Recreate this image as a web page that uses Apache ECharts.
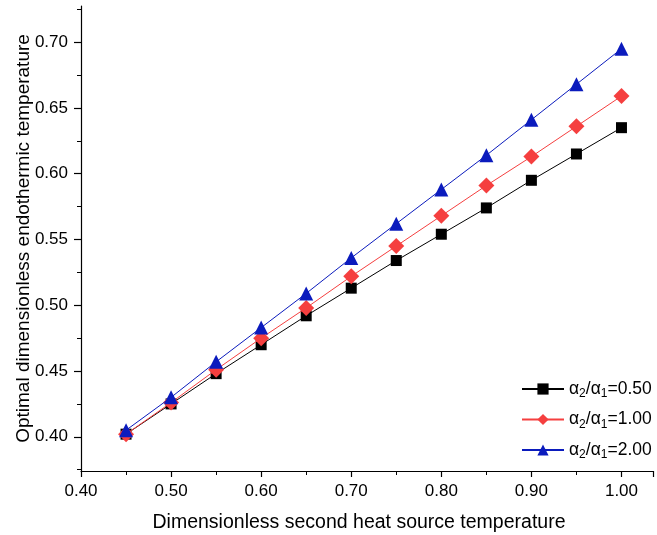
<!DOCTYPE html>
<html>
<head>
<meta charset="utf-8">
<script src="https://cdn.jsdelivr.net/npm/echarts@6/dist/echarts.min.js"></script>
<style>html,body{margin:0;padding:0;background:#fff}#c{width:657px;height:535px}</style>
</head>
<body>
<div id="c"></div>
<script>
var xValues = [0.45, 0.50, 0.55, 0.60, 0.65, 0.70, 0.75, 0.80, 0.85, 0.90, 0.95, 1.00];
var ratio050 = [0.402, 0.425, 0.448, 0.470, 0.492, 0.513, 0.534, 0.554, 0.574, 0.595, 0.615, 0.635];
var ratio100 = [0.402, 0.426, 0.451, 0.475, 0.498, 0.522, 0.545, 0.568, 0.591, 0.613, 0.636, 0.659];
var ratio200 = [0.405, 0.430, 0.457, 0.483, 0.509, 0.536, 0.562, 0.588, 0.614, 0.641, 0.668, 0.695];
var seriesNames = ['0.50', '1.00', '2.00'];
var yTickLabels = [0.40, 0.45, 0.50, 0.55, 0.60, 0.65, 0.70];
var yMinorTicks = [0.375, 0.425, 0.475, 0.525, 0.575, 0.625, 0.675, 0.725];

var FONT = '"Liberation Sans", Arial, sans-serif';
var colors = ['#000000', '#F53F3F', '#0B1BBD'];
var symbols = ['rect', 'diamond', 'triangle'];
var sizes = [11, 16, 14];
var dataSets = [ratio050, ratio100, ratio200];

function pairs(arr) { return xValues.map(function (x, i) { return [x, arr[i]]; }); }
function legendName(v) { return '{a|α}{s|2}{a|/α}{s|1}{a|=' + v + '}'; }

var series = dataSets.map(function (d, i) {
  return {
    name: legendName(seriesNames[i]),
    type: 'line',
    data: pairs(d),
    symbol: symbols[i],
    symbolSize: sizes[i],
    lineStyle: { color: colors[i], width: 1 },
    itemStyle: { color: colors[i] },
    z: 2 + i
  };
});

var chart = echarts.init(document.getElementById('c'), null, { renderer: 'canvas' });
chart.setOption({
  animation: false,
  backgroundColor: '#ffffff',
  textStyle: { fontFamily: FONT },
  grid: { left: 81, right: 4, top: 6, bottom: 64, containLabel: false, outerBoundsMode: 'none' },
  legend: {
    orient: 'vertical',
    left: 521,
    top: 378,
    padding: 0,
    itemWidth: 42,
    itemHeight: 14,
    itemGap: 8.5,
    data: series.map(function (s) { return s.name; }),
    textStyle: {
      fontFamily: FONT,
      color: '#000',
      rich: {
        a: { fontSize: 17.5, fontFamily: FONT, color: '#000', lineHeight: 22 },
        s: { fontSize: 12, fontFamily: FONT, color: '#000', lineHeight: 22, verticalAlign: 'bottom', padding: [10, 0, 0, 0] }
      }
    }
  },
  xAxis: {
    type: 'value',
    min: 0.4,
    max: 1.035,
    interval: 0.1,
    name: 'Dimensionless second heat source temperature',
    nameLocation: 'middle',
    nameMoveOverlap: false,
    nameGap: 42,
    nameTextStyle: { fontSize: 19.5, color: '#000', fontFamily: FONT, padding: [0, 16, 0, 0] },
    axisLine: { show: true, lineStyle: { color: '#000', width: 1.2 } },
    axisTick: { show: true, length: 6, lineStyle: { color: '#000', width: 1.2 } },
    minorTick: { show: true, splitNumber: 2, length: 4, lineStyle: { color: '#000', width: 1 } },
    axisLabel: {
      fontSize: 17, color: '#000', margin: 12, fontFamily: FONT, showMaxLabel: false,
      formatter: function (v) { return (Math.round(v * 100) / 100).toFixed(2); }
    },
    splitLine: { show: false }
  },
  yAxis: [{
    type: 'value',
    min: 0.374,
    max: 0.7275,
    name: 'Optimal dimensionless endothermic temperature',
    nameLocation: 'middle',
    nameMoveOverlap: false,
    nameGap: 48,
    nameTextStyle: { fontSize: 19, color: '#000', fontFamily: FONT },
    axisLine: { show: true, lineStyle: { color: '#000', width: 1.2 } },
    axisTick: { show: true, length: 7, customValues: yTickLabels, lineStyle: { color: '#000', width: 1.2 } },
    axisLabel: {
      fontSize: 17, color: '#000', margin: 13, fontFamily: FONT, customValues: yTickLabels,
      formatter: function (v) { return v.toFixed(2); }
    },
    splitLine: { show: false }
  }, {
    type: 'value',
    min: 0.374,
    max: 0.7275,
    position: 'left',
    offset: 0,
    axisLine: { show: false },
    axisTick: { show: true, length: 4, customValues: yMinorTicks, lineStyle: { color: '#000', width: 1 } },
    axisLabel: { show: false, customValues: yMinorTicks },
    splitLine: { show: false }
  }],
  series: series
});
</script>
</body>
</html>
